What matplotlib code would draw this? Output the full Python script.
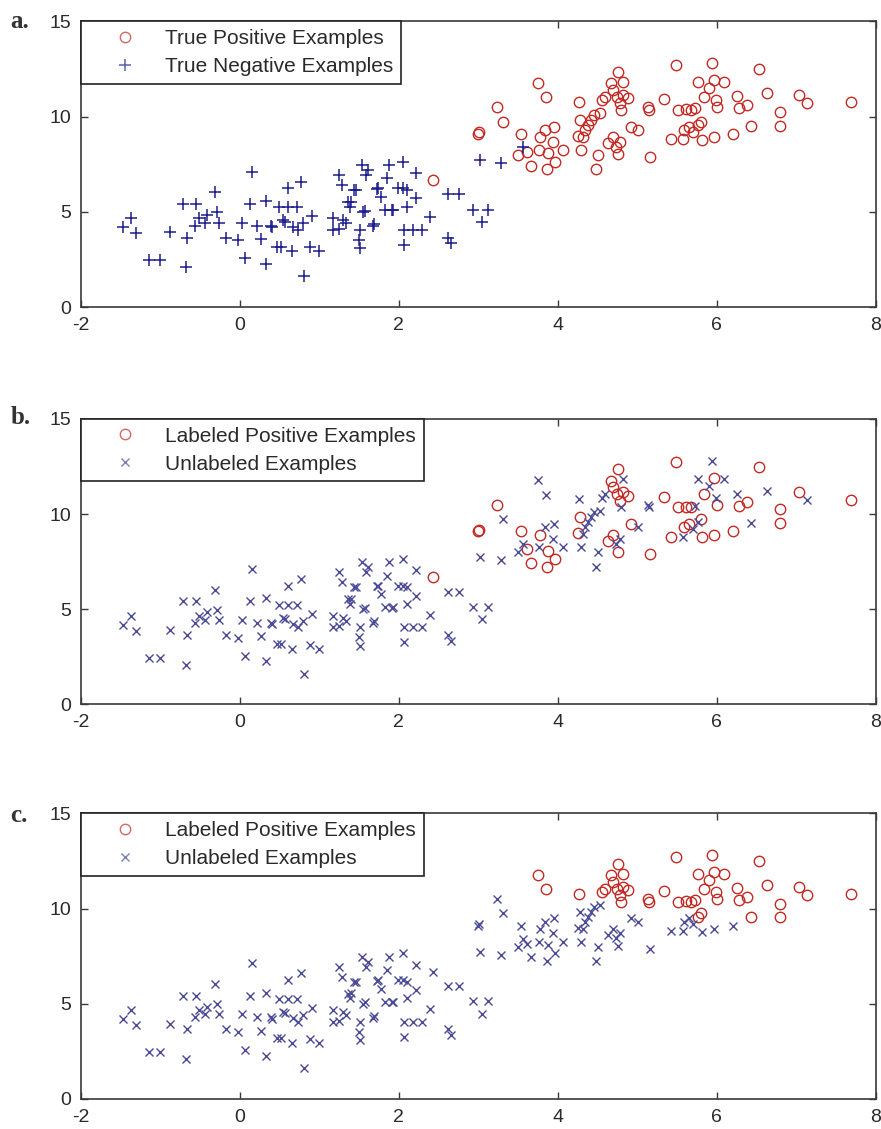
import matplotlib
matplotlib.use('Agg')
import matplotlib.pyplot as plt
import numpy as np

# ── Datos ────────────────────────────────────────────────────────
neg_x = [-1.47, -1.37, -1.31, -1.14, -1.01, -0.88, -0.72, -0.55, -0.67, -0.68,
         -0.57, -0.51, -0.42, -0.44, -0.31, -0.29, -0.27, -0.17, -0.02, 0.03,
         0.06, 0.15, 0.12, 0.21, 0.39, 0.26, 0.33, 0.33, 0.46, 0.52,
         0.49, 0.60, 0.72, 0.61, 0.77, 0.57, 0.67, 0.73, 0.79, 0.90,
         0.65, 0.88, 1.00, 0.80, 1.17, 1.17, 1.24, 1.30, 1.25, 1.28,
         1.38, 1.40, 1.43, 1.46, 1.51, 1.50, 1.51, 1.57, 1.53, 1.59,
         1.61, 1.69, 1.74, 1.78, 1.82, 1.87, 1.85, 1.93, 1.99, 2.05,
         2.10, 2.05, 2.10, 2.07, 2.18, 2.29, 2.07, 2.21, 2.22, 2.39,
         2.62, 2.76, 2.62, 2.66, 2.93, 3.12, 3.04, 3.02, 3.29, 3.56,
         1.34, 1.68, 1.55, 1.36, 0.54, 0.40, 1.72, 1.91]
neg_y = [4.18, 4.67, 3.88, 2.45, 2.45, 3.93, 5.42, 5.42, 3.65, 2.10,
         4.28, 4.67, 4.84, 4.44, 6.03, 4.98, 4.44, 3.65, 3.50, 4.44,
         2.57, 7.12, 5.42, 4.28, 4.28, 3.58, 5.59, 2.26, 3.18, 3.18,
         5.24, 5.24, 5.24, 6.24, 6.59, 4.49, 4.23, 4.06, 4.41, 4.76,
         2.92, 3.15, 2.92, 1.61, 4.67, 4.06, 4.10, 4.56, 6.94, 6.42,
         5.28, 5.54, 6.15, 6.15, 4.06, 3.53, 3.09, 5.07, 7.47, 6.94,
         7.20, 4.37, 6.24, 5.80, 5.10, 7.47, 6.77, 5.10, 6.24, 6.24,
         6.15, 7.64, 5.28, 4.06, 4.06, 4.06, 3.27, 7.06, 5.72, 4.72,
         5.93, 5.93, 3.65, 3.34, 5.12, 5.12, 4.47, 7.74, 7.57, 8.41,
         4.39, 4.26, 5.00, 5.52, 4.56, 4.21, 6.22, 5.09]

pos_x = [2.43, 3.00, 3.01, 3.23, 3.31, 3.75, 3.85, 3.54, 3.50, 3.61,
         3.66, 3.76, 3.84, 3.78, 3.88, 3.86, 3.96, 3.95, 3.94, 4.07,
         4.27, 4.28, 4.25, 4.29, 4.34, 4.38, 4.42, 4.46, 4.53, 4.32,
         4.48, 4.51, 4.55, 4.59, 4.63, 4.69, 4.73, 4.76, 4.78, 4.67,
         4.69, 4.76, 4.82, 4.74, 4.78, 4.82, 4.88, 4.79, 4.92, 5.01,
         5.15, 5.13, 5.16, 5.34, 5.49, 5.42, 5.51, 5.57, 5.61, 5.68,
         5.72, 5.59, 5.65, 5.70, 5.76, 5.76, 5.80, 5.82, 5.84, 5.90,
         5.94, 5.97, 5.99, 6.00, 5.97, 6.09, 6.20, 6.26, 6.28, 6.38,
         6.43, 6.53, 6.63, 6.80, 6.80, 7.03, 7.13, 7.69]
pos_y = [6.68, 9.10, 9.18, 10.49, 9.74, 11.78, 11.01, 9.09, 7.99, 8.16,
         7.43, 8.25, 9.30, 8.92, 8.08, 7.24, 7.64, 9.48, 8.69, 8.25,
         10.79, 9.83, 8.99, 8.25, 9.30, 9.56, 9.83, 10.09, 10.17, 8.95,
         7.24, 7.99, 10.87, 11.05, 8.60, 8.92, 8.43, 8.02, 8.69, 11.75,
         11.40, 12.36, 11.84, 11.05, 10.70, 11.14, 10.96, 10.35, 9.48, 9.30,
         10.35, 10.49, 7.90, 10.91, 12.71, 8.81, 10.35, 8.81, 10.38, 10.35,
         10.44, 9.30, 9.48, 9.21, 11.84, 9.56, 9.74, 8.78, 11.05, 11.49,
         12.80, 11.92, 10.87, 10.49, 8.92, 11.84, 9.09, 11.08, 10.44, 10.61,
         9.53, 12.48, 11.22, 10.26, 9.53, 11.14, 10.73, 10.75]

# positivos etiquetados en (b) y en (c)
lab_b = [1, 1, 1, 1, 0, 0, 0, 1, 0, 1,
         1, 0, 0, 1, 1, 1, 1, 0, 0, 0,
         0, 1, 1, 0, 0, 0, 0, 0, 0, 0,
         0, 0, 0, 0, 1, 1, 0, 1, 0, 1,
         1, 1, 0, 1, 1, 1, 1, 0, 1, 0,
         0, 0, 1, 1, 1, 1, 1, 0, 1, 1,
         0, 1, 1, 0, 0, 0, 1, 1, 1, 0,
         0, 1, 0, 1, 1, 0, 1, 0, 1, 1,
         0, 1, 0, 1, 1, 1, 0, 1]
lab_c = [0, 0, 0, 0, 0, 1, 1, 0, 0, 0,
         0, 0, 0, 0, 0, 0, 0, 0, 0, 0,
         1, 0, 0, 0, 0, 0, 0, 0, 0, 0,
         0, 0, 1, 1, 0, 0, 0, 0, 0, 1,
         1, 1, 1, 1, 1, 1, 1, 1, 0, 0,
         1, 1, 0, 1, 1, 0, 1, 0, 1, 1,
         1, 0, 0, 0, 1, 1, 1, 0, 1, 1,
         1, 1, 1, 1, 0, 1, 0, 1, 1, 1,
         1, 1, 1, 1, 1, 1, 1, 1]

panel_tags = ['a.', 'b.', 'c.']
legend_pos = ['True Positive Examples', 'Labeled Positive Examples', 'Labeled Positive Examples']
legend_neg = ['True Negative Examples', 'Unlabeled Examples', 'Unlabeled Examples']
x_ticks = [-2, 0, 2, 4, 6, 8]
y_ticks = [0, 5, 10, 15]

# ── Estilo ───────────────────────────────────────────────────────
RED = '#c42a24'
NAVY = '#1c1c8c'
SLATE = '#4b4b98'
FRAME = '#3a3a3a'
TXT = '#2a2a2a'
plt.rcParams['font.family'] = ['Liberation Sans', 'DejaVu Sans']
plt.rcParams['axes.unicode_minus'] = False

nx, ny = np.array(neg_x), np.array(neg_y)
px, py = np.array(pos_x), np.array(pos_y)

fig = plt.figure(figsize=(8.81, 11.29), dpi=100, facecolor='white')
bottoms = [0.728, 0.376, 0.0266]

for k in range(3):
    ax = fig.add_axes([0.092, bottoms[k], 0.902, 0.253])
    if k == 0:
        ax.plot(px, py, 'o', ms=7.5, mfc='none', mec=RED, mew=1.0,
                label=legend_pos[k])
        ax.plot(nx, ny, '+', ms=9, color=NAVY, mew=1.1, label=legend_neg[k])
    else:
        lab = np.array(lab_b if k == 1 else lab_c, dtype=bool)
        ux = np.concatenate([nx, px[~lab]])
        uy = np.concatenate([ny, py[~lab]])
        ax.plot(px[lab], py[lab], 'o', ms=7.5, mfc='none', mec=RED, mew=1.0,
                label=legend_pos[k])
        ax.plot(ux, uy, 'x', ms=6, color=SLATE, mew=1.0, label=legend_neg[k])

    ax.set_xlim(-2, 8)
    ax.set_ylim(0, 15)
    ax.set_xticks(x_ticks)
    ax.set_yticks(y_ticks)
    ax.tick_params(direction='in', length=5, width=1, color=FRAME,
                   top=True, right=True, labelsize=14, labelcolor=TXT, pad=7)
    for sp in ax.spines.values():
        sp.set_color(FRAME)
        sp.set_linewidth(1.2)

    leg = ax.legend(loc='upper left', borderaxespad=0, fontsize=15,
                    handlelength=3.5, handletextpad=0.15, borderpad=0.38,
                    labelspacing=0.42, fancybox=False, framealpha=1,
                    edgecolor='#222222', numpoints=1)
    leg.get_frame().set_linewidth(1.2)
    for t in leg.get_texts():
        t.set_color(TXT)
    for h in leg.legend_handles:
        h.set_alpha(0.7)

    top_px = 21 + 397 * k
    fig.text(0.012, 1 - top_px / 1129, panel_tags[k], fontsize=18,
             family=['Liberation Serif', 'DejaVu Serif'], weight='bold',
             color='#333333', va='center', ha='left')

fig.savefig('out.png', dpi=100, facecolor='white')
